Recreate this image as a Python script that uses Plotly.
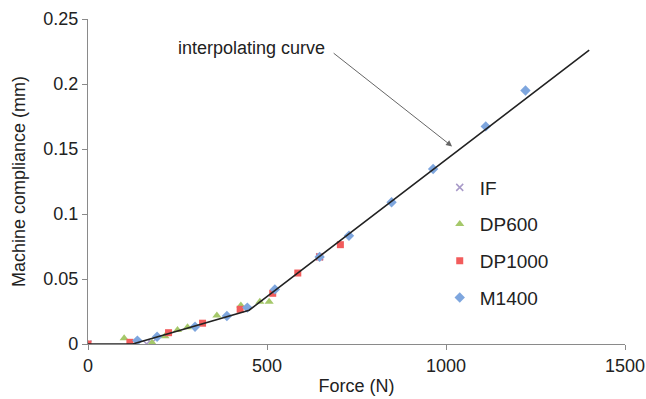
import plotly.graph_objects as go

# Data
if_x = [0, 164, 178, 647]
if_y = [0.0, 0.0, 0.0008, 0.067]

dp600_x = [0, 101, 179, 215, 250, 278, 360, 427, 480, 506]
dp600_y = [0.0, 0.0044, 0.001, 0.006, 0.0108, 0.0128, 0.022, 0.0297, 0.0325, 0.0325]

dp1000_x = [0, 117, 225, 320, 425, 516, 586, 647, 705]
dp1000_y = [0.0, 0.0013, 0.0087, 0.016, 0.0267, 0.039, 0.0546, 0.067, 0.0764]

m1400_x = [138, 193, 299, 388, 445, 522, 647, 729, 848, 964, 1111, 1222]
m1400_y = [0.0026, 0.0056, 0.0133, 0.0215, 0.028, 0.042, 0.067, 0.0833, 0.109, 0.1346, 0.1674, 0.195]

curve_x = [0, 125, 450, 1400]
curve_y = [0.0, 0.0, 0.026, 0.226]

x_ticks = [0, 500, 1000, 1500]
y_ticks = [0, 0.05, 0.1, 0.15, 0.2, 0.25]
y_tick_labels = ["0", "0.05", "0.1", "0.15", "0.2", "0.25"]

FONT = "Liberation Sans, Arial, sans-serif"

fig = go.Figure()

fig.add_trace(go.Scatter(
    x=if_x, y=if_y, mode="markers", name="IF", legendgroup="a",
    marker=dict(symbol="x-thin", size=7, line=dict(color="#a99bc9", width=1.5), color="#a99bc9")))
fig.add_trace(go.Scatter(
    x=dp600_x, y=dp600_y, mode="markers", name="DP600", legendgroup="b",
    marker=dict(symbol="triangle-up", size=8, color="#a5c86a")))
fig.add_trace(go.Scatter(
    x=dp1000_x, y=dp1000_y, mode="markers", name="DP1000", legendgroup="c",
    marker=dict(symbol="square", size=7, color="#f25c5c")))
fig.add_trace(go.Scatter(
    x=m1400_x, y=m1400_y, mode="markers", name="M1400", legendgroup="d",
    marker=dict(symbol="diamond", size=8, color="#7ea6de")))
fig.add_trace(go.Scatter(
    x=curve_x, y=curve_y, mode="lines", showlegend=False,
    line=dict(color="#222222", width=1.6)))

fig.add_annotation(
    x=667, y=0.2277, xref="x", yref="y", text="interpolating curve",
    showarrow=False, xanchor="right", yanchor="middle",
    font=dict(family=FONT, size=18, color="#222"))
fig.add_annotation(
    x=1017, y=0.152, ax=682, ay=0.2246, xref="x", yref="y", axref="x", ayref="y",
    text="", showarrow=True, arrowhead=2, arrowsize=1.2, arrowwidth=1, arrowcolor="#666")

fig.update_layout(
    width=646, height=399,
    margin=dict(l=88, r=21, t=19, b=55),
    paper_bgcolor="white", plot_bgcolor="white",
    font=dict(family=FONT, size=18, color="#222"),
    legend=dict(x=0.655, y=0.54, xanchor="left", yanchor="top",
                font=dict(family=FONT, size=19, color="#222"),
                tracegroupgap=9, bgcolor="rgba(0,0,0,0)"),
)
fig.update_xaxes(
    range=[0, 1500], tickvals=x_ticks, showgrid=False, zeroline=False,
    showline=True, linecolor="#8a8a8a", linewidth=1.2, automargin=False,
    ticks="outside", ticklen=5, tickcolor="#8a8a8a",
    title=dict(text="Force (N)", font=dict(size=18), standoff=4))
fig.update_yaxes(
    range=[0, 0.25], tickvals=y_ticks, ticktext=y_tick_labels, showgrid=False, zeroline=False,
    showline=True, linecolor="#8a8a8a", linewidth=1.2, automargin=False,
    ticks="outside", ticklen=5, tickcolor="#8a8a8a",
    title=dict(text="Machine compliance (mm)", font=dict(size=18), standoff=12))

fig.write_html("out.html", config={"displayModeBar": False},
               post_script="document.body.style.margin='0';document.body.style.overflow='hidden';")
